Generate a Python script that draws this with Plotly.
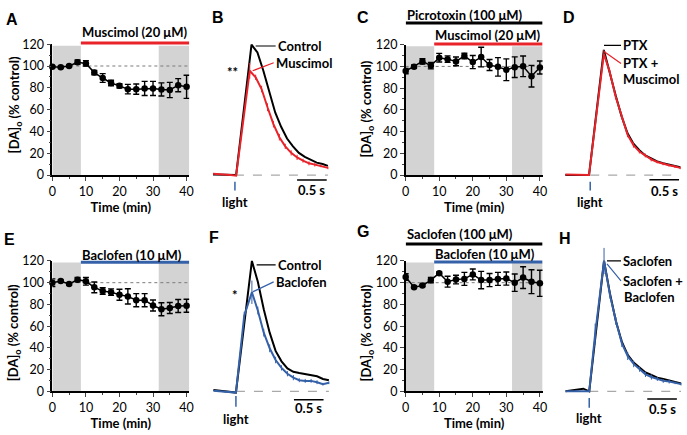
import plotly.graph_objects as go

W, H = 687, 435
FONT = "Lato"
RED = "#e8232a"
BLUE = "#3561a9"
GRAY_FILL = "#d3d3d3"

# ---------------- data: time-course panels (A, C, E, G) ----------------
time_min = [0, 2.5, 5, 7.5, 10, 12.5, 15, 17.5, 20, 22.5, 25, 27.5, 30, 32.5, 35, 37.5, 40]
A_mean = [99.4, 98.8, 100, 103.5, 102.4, 94, 89, 84.4, 81.8, 78.8, 78.8, 79.4, 79.4, 78.5, 78, 82.4, 80.9]
A_err = [1, 1, 1, 2, 2.5, 2, 4, 2.5, 2, 4.4, 4.7, 6.5, 6.5, 6, 7, 6, 10.6]
C_mean = [95.7, 99.8, 104.6, 100.7, 108, 106.7, 104.6, 109.6, 104, 108.6, 101.3, 99.6, 96.9, 99.3, 100.1, 91, 99]
C_err = [2.5, 1.5, 2.5, 3, 4, 3, 4, 2.5, 6, 9, 5, 8.5, 10, 9.5, 9.5, 10, 6]
E_mean = [100, 101.6, 98.7, 102.8, 101.3, 95.7, 92.4, 91.3, 88.9, 87.4, 83.9, 83.9, 79, 75.6, 76.7, 78.5, 78.8]
E_err = [3.5, 1, 1, 2, 3.5, 5, 3, 3, 5, 7, 6, 6, 5, 6, 5, 6, 6]
G_mean = [105.3, 95.9, 97.4, 102.4, 108.8, 100.9, 102.9, 103.5, 107.6, 102.4, 102.4, 103.5, 103.8, 100, 104.7, 100.9, 99.4]
G_err = [3, 1, 1, 2.5, 1, 5, 4, 6, 5, 8, 6, 6, 6, 8, 10, 11, 12]

x_max_min = 40.8
shade_windows = [(0, 8.5), (31.7, 40.8)]
shade_top = 118.5
control_level = 100

# drug applications: (label, colour, start_min)
A_drugs = [("Muscimol (20 μM)", RED, 8.5)]
C_drugs = [("Picrotoxin (100 μM)", "black", 0.0), ("Muscimol (20 μM)", RED, 8.5)]
E_drugs = [("Baclofen (10 μM)", BLUE, 8.5)]
G_drugs = [("Saclofen (100 μM)", "black", 0.0), ("Baclofen (10 μM)", BLUE, 8.5)]

# ---------------- data: evoked transients (B, D, F, H), % of control peak ----------------
B_t_ctrl = [-0.37, -0.27, -0.17, -0.07, 0.02, 0.28, 0.38, 0.48, 0.58, 0.68, 0.78, 0.88, 0.98, 1.08, 1.18, 1.28, 1.38, 1.48, 1.57]
B_ctrl = [0.5, 0.3, 0.0, -0.3, 0.0, 100, 94, 80, 63, 48, 37, 28, 22, 17, 14, 11.5, 9.5, 8.5, 7]
B_t_mus = [-0.37, -0.27, -0.17, -0.07, 0.02, 0.25, 0.35, 0.45, 0.55, 0.65, 0.75, 0.85, 0.95, 1.05, 1.15, 1.25, 1.35, 1.45, 1.57]
B_mus = [1.0, 0.8, 0.5, 0.0, -0.5, 80, 75, 66, 52, 39, 29, 22, 17, 13.5, 11, 9, 8, 7, 5.5]
B_mus_err = [0, 0, 0, 0, 0, 6, 2, 2.5, 3, 2.5, 2.5, 2, 2, 2, 1.5, 1.5, 1.5, 1, 1]

D_t = [-0.42, -0.32, -0.22, -0.12, -0.02, 0.23, 0.33, 0.43, 0.53, 0.63, 0.73, 0.83, 0.93, 1.03, 1.13, 1.23, 1.33, 1.43, 1.52]
D_ptx = [0.0, 0.0, 0.3, 0.0, 0.0, 96, 78, 61, 45, 32, 24, 19, 15, 12.5, 10.5, 9, 8, 7, 6]
D_ptx_mus = [0.5, 0.3, 0.0, 0.0, 0.0, 93, 79, 60, 45, 31, 23, 18, 15, 12, 10, 8.5, 7.5, 6.5, 5.5]
D_ptx_mus_err = [0, 0, 0, 0, 0, 3, 2, 2, 2, 2, 2, 1.5, 1.5, 1.5, 1, 1, 1, 1, 1]

F_t_ctrl = [-0.38, -0.28, -0.18, -0.08, 0.0, 0.27, 0.37, 0.47, 0.57, 0.67, 0.77, 0.87, 0.97, 1.07, 1.17, 1.27, 1.37, 1.47, 1.57]
F_ctrl = [1.0, 0.5, 0.0, -0.5, -1.0, 100, 84, 63, 45, 31, 23, 17.5, 15, 14, 13, 12.5, 11.5, 9.5, 8.5]
F_t_bac = [-0.38, -0.28, -0.18, -0.08, 0.0, 0.14, 0.27, 0.37, 0.47, 0.57, 0.67, 0.77, 0.87, 0.97, 1.07, 1.17, 1.27, 1.37, 1.47, 1.57]
F_bac = [0.5, 0.0, -0.5, -1.0, -1.0, 58, 76, 62, 45, 33, 24, 18, 13.5, 10.5, 8.5, 8, 8, 7, 5.5, 6.5]
F_bac_err = [0, 0, 0, 0, 0, 3, 9, 3, 3, 3, 2.5, 2, 2, 2, 1.5, 1.5, 1.5, 1.5, 1, 1]

H_t_sac = [-0.4, -0.3, -0.2, -0.1, 0.0, 0.25, 0.35, 0.45, 0.55, 0.65, 0.75, 0.85, 0.95, 1.05, 1.15, 1.25, 1.35, 1.45, 1.55]
H_sac = [0.0, 0.5, 1.0, 2.0, 0.0, 100, 75, 54, 38, 28, 22, 18, 14.5, 12.5, 10.5, 9.5, 8.5, 7, 6]
H_t_sacbac = [-0.4, -0.3, -0.2, -0.1, 0.0, 0.1, 0.25, 0.35, 0.45, 0.55, 0.65, 0.75, 0.85, 0.95, 1.05, 1.15, 1.25, 1.35, 1.45, 1.55]
H_sacbac = [0.0, 0.0, 0.0, 0.0, 0.0, 44, 100, 74, 54, 37, 27, 21, 17, 13, 11, 9.5, 8, 7.5, 6.5, 5.5]
H_sacbac_err = [0, 0, 0, 0, 0, 8, 10, 3, 3, 3, 3, 2.5, 2, 2, 2, 1.5, 1.5, 1.5, 1, 1]

light_onset_s = 0.0
scale_bar_s = 0.5

# ---------------- layout helpers ----------------
def ids(n):
    return ("x" if n == 1 else f"x{n}", "y" if n == 1 else f"y{n}")

fig = go.Figure()
layout = dict(width=W, height=H, margin=dict(l=0, r=0, t=0, b=0), autosize=False,
              paper_bgcolor="white", plot_bgcolor="rgba(0,0,0,0)",
              font=dict(family=FONT, size=13, color="black"), showlegend=False)
shapes, annots = [], []

PX_PER_MIN = 3.4
TICKFONT = dict(family=FONT, size=12.5, color="black")

time_panels = [
    dict(n=1, letter="A", mean=A_mean, err=A_err, x0=49, ytop=37.5, ybot=173,
         drugs=A_drugs, bar_y=[1.01], lab_y=[1.092], ytitle=(11, 100), letter_pos=(8, 12)),
    dict(n=3, letter="C", mean=C_mean, err=C_err, x0=407, ytop=38, ybot=173,
         drugs=C_drugs, bar_y=[1.166, 1.005], lab_y=[1.228, 1.077], ytitle=(368, 105), letter_pos=(364, 10)),
    dict(n=5, letter="E", mean=E_mean, err=E_err, x0=49, ytop=262, ybot=397,
         drugs=E_drugs, bar_y=[0.99], lab_y=[1.048], ytitle=(11, 336), letter_pos=(6, 240)),
    dict(n=7, letter="G", mean=G_mean, err=G_err, x0=407, ytop=262, ybot=397,
         drugs=G_drugs, bar_y=[1.13, 0.993], lab_y=[1.205, 1.052], ytitle=(368, 337), letter_pos=(364, 231)),
]

for p in time_panels:
    n = p["n"]
    xr, yr = ids(n)
    xa = "xaxis" if n == 1 else f"xaxis{n}"
    ya = "yaxis" if n == 1 else f"yaxis{n}"
    layout[xa] = dict(domain=[p["x0"] / W, (p["x0"] + x_max_min * PX_PER_MIN) / W],
                      range=[0, x_max_min], anchor=yr, tickvals=[0, 10, 20, 30, 40],
                      ticks="outside", ticklen=4, tickwidth=1.3, showline=True, linewidth=1.5,
                      linecolor="black", showgrid=False, zeroline=False, tickfont=TICKFONT,
                      minor=dict(ticks="outside", dtick=5, ticklen=2, tickwidth=1),
                      title=dict(text="<b>Time (min)</b>", font=dict(family=FONT, size=13), standoff=3))
    layout[ya] = dict(domain=[1 - p["ybot"] / H, 1 - p["ytop"] / H], range=[0, 120], anchor=xr,
                      tickvals=[0, 20, 40, 60, 80, 100, 120], ticks="outside", ticklen=4, tickwidth=1.3,
                      showline=True, linewidth=1.5, linecolor="black", showgrid=False, zeroline=False,
                      tickfont=TICKFONT, minor=dict(ticks="outside", dtick=10, ticklen=2, tickwidth=1))
    for (a, b) in shade_windows:
        shapes.append(dict(type="rect", xref=xr, yref=yr, x0=a, x1=b, y0=0, y1=shade_top,
                           fillcolor=GRAY_FILL, line=dict(width=0), layer="below"))
    shapes.append(dict(type="line", xref=xr, yref=yr, x0=0, x1=x_max_min, y0=control_level,
                       y1=control_level, line=dict(color="#7a7a7a", width=1, dash="dot"), layer="below"))
    for (label, col, start), by, ly in zip(p["drugs"], p["bar_y"], p["lab_y"]):
        shapes.append(dict(type="line", xref=xr, yref=yr + " domain", x0=start, x1=x_max_min,
                           y0=by, y1=by, line=dict(color=col, width=3)))
        annots.append(dict(xref=xr, yref=yr + " domain", x=start, y=ly, text=f"<b>{label}</b>",
                           showarrow=False, xanchor="left", yanchor="middle", xshift=-1,
                           font=dict(family=FONT, size=13)))
    fig.add_trace(go.Scatter(x=time_min, y=p["mean"], xaxis=xr, yaxis=yr, mode="lines+markers",
                             line=dict(color="black", width=1.5), marker=dict(size=6.5, color="black"),
                             error_y=dict(type="data", array=p["err"], thickness=1.4, width=3, color="black"),
                             cliponaxis=False))
    tx, ty = p["ytitle"]
    annots.append(dict(xref="paper", yref="paper", x=tx / W, y=1 - ty / H, textangle=-90,
                       text="<b>[DA]<sub>o</sub> (% control)</b>", showarrow=False,
                       xanchor="center", yanchor="middle", font=dict(family=FONT, size=13)))
    lx, ly2 = p["letter_pos"]
    annots.append(dict(xref="paper", yref="paper", x=lx / W, y=1 - ly2 / H, text=f"<b>{p['letter']}</b>",
                       showarrow=False, xanchor="center", yanchor="middle",
                       font=dict(family="Liberation Sans", size=16)))

# ---------------- transient panels ----------------
PX_PER_S = 60.0
PX_PER_UNIT = 1.35

def add_trace_panel(n, xpx, light_px, base_px, ytop_px, ybot_px, series, labels, letter, letter_pos,
                    light_y, bar_y, bar_x, bar_text_y, light_text_y, stars=None):
    xr, yr = ids(n)
    layout[f"xaxis{n}"] = dict(domain=[xpx[0] / W, xpx[1] / W],
                               range=[(xpx[0] - light_px) / PX_PER_S, (xpx[1] - light_px) / PX_PER_S],
                               anchor=yr, visible=False)
    layout[f"yaxis{n}"] = dict(domain=[1 - ybot_px / H, 1 - ytop_px / H],
                               range=[-(ybot_px - base_px) / PX_PER_UNIT, (base_px - ytop_px) / PX_PER_UNIT],
                               anchor=xr, visible=False)
    t_end = max(max(s[0]) for s in series)
    fig.add_trace(go.Scatter(x=[light_onset_s, t_end], y=[0, 0], xaxis=xr, yaxis=yr, mode="lines",
                             line=dict(color="#a9a9a9", width=1.3, dash="dash")))
    for (t, v, col, err) in series:
        fig.add_trace(go.Scatter(x=t, y=v, xaxis=xr, yaxis=yr, mode="lines",
                                 line=dict(color=col, width=2),
                                 error_y=(dict(type="data", array=err, thickness=1, width=0, color=col)
                                          if err is not None else None)))
    fig.add_trace(go.Scatter(x=[light_onset_s, light_onset_s], y=light_y, xaxis=xr, yaxis=yr,
                             mode="lines", line=dict(color=BLUE, width=1.5)))
    fig.add_trace(go.Scatter(x=[bar_x, bar_x + scale_bar_s], y=[bar_y, bar_y], xaxis=xr, yaxis=yr,
                             mode="lines", line=dict(color="black", width=1.5)))
    annots.append(dict(xref=xr, yref=yr, x=bar_x + scale_bar_s / 2, y=bar_text_y, text="<b>0.5 s</b>",
                       showarrow=False, font=dict(family=FONT, size=13)))
    annots.append(dict(xref=xr, yref=yr, x=light_onset_s, y=light_text_y, text="<b>light</b>",
                       showarrow=False, font=dict(family=FONT, size=13)))
    for lab in labels:
        d = dict(xref=xr, yref=yr, x=lab["x"], y=lab["y"], text=f"<b>{lab['text']}</b>",
                 xanchor="left", yanchor="middle", font=dict(family=FONT, size=13))
        if "ax" in lab:
            d.update(showarrow=True, ax=lab["ax"], ay=lab["ay"], arrowhead=0, arrowwidth=1.2,
                     arrowcolor=lab["col"], standoff=0, startstandoff=0)
        else:
            d.update(showarrow=False)
        annots.append(d)
    if stars:
        annots.append(dict(xref=xr, yref=yr, x=stars[0], y=stars[1], text=f"<b>{stars[2]}</b>",
                           showarrow=False, font=dict(family=FONT, size=13)))
    annots.append(dict(xref="paper", yref="paper", x=letter_pos[0] / W, y=1 - letter_pos[1] / H,
                       text=f"<b>{letter}</b>", showarrow=False, xanchor="center", yanchor="middle",
                       font=dict(family="Liberation Sans", size=16)))

# B
add_trace_panel(2, (205, 340), 234, 173, 20, 210,
                [(B_t_ctrl, B_ctrl, "black", None), (B_t_mus, B_mus, RED, B_mus_err)],
                [dict(text="Control", x=0.35, y=99, ax=20, ay=0, col="black"),
                 dict(text="Muscimol", x=0.30, y=80, ax=21, ay=-8, col=RED)],
                "B", (217, 10), [-5.2, -11.9], -3.9, 1.05, -11.5, -20.7, stars=(-0.035, 79, "**"))
# D
add_trace_panel(4, (560, 687), 594, 173, 20, 210,
                [(D_t, D_ptx, "black", None), (D_t, D_ptx_mus, RED, D_ptx_mus_err)],
                [dict(text="PTX", x=0.233, y=99.5, ax=17, ay=0, col="black"),
                 dict(text="PTX +", x=0.233, y=94.8, ax=17, ay=12, col=RED),
                 dict(text="Muscimol", x=0.52, y=73.5)],
                "D", (573, 10), [-5.2, -11.9], -3.7, 1.0, -11.9, -20.7)
# F
add_trace_panel(6, (205, 340), 235, 397, 244, 434,
                [(F_t_ctrl, F_ctrl, "black", None), (F_t_bac, F_bac, BLUE, F_bac_err)],
                [dict(text="Control", x=0.35, y=97, ax=19, ay=0, col="black"),
                 dict(text="Baclofen", x=0.283, y=76.3, ax=21, ay=-10, col=BLUE)],
                "F", (213, 238), [-3.5, -11.9], -6.4, 0.98, -12.8, -21.3, stars=(-0.01, 74, "*"))
# H
add_trace_panel(8, (560, 687), 593, 397, 244, 434,
                [(H_t_sac, H_sac, "black", None), (H_t_sacbac, H_sacbac, BLUE, H_sacbac_err)],
                [dict(text="Saclofen", x=0.30, y=100, ax=14, ay=0, col="black"),
                 dict(text="Saclofen +", x=0.30, y=97.8, ax=14, ay=17, col=BLUE),
                 dict(text="Baclofen", x=0.55, y=72.2)],
                "H", (568, 239), [-5.2, -12.6], -5.9, 0.98, -13.3, -20.7)

layout["shapes"] = shapes
layout["annotations"] = annots
fig.update_layout(**layout)
fig.write_html("out.html", config={"displayModeBar": False},
               post_script="document.body.style.margin='0';document.body.style.overflow='hidden';")
